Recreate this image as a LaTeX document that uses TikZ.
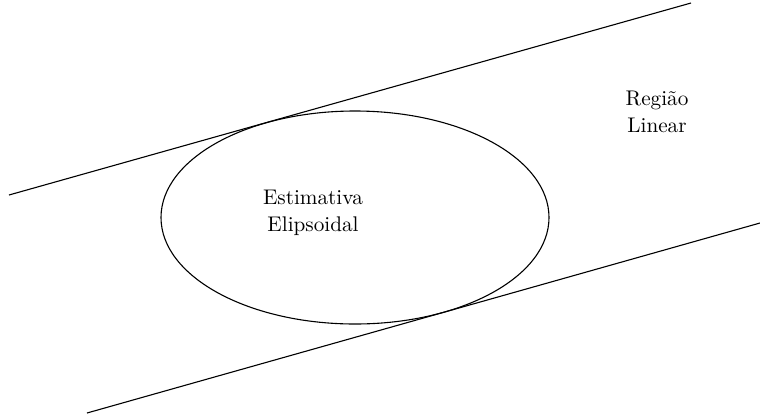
\documentclass[tikz,border=0pt]{standalone}
\usepackage{tikz}
\usetikzlibrary{shapes,positioning}

\begin{document}
\begin{tikzpicture}[
    x=0.5pt, y=-0.5pt,
    region/.style={draw, line width=0.55pt},
    estim/.style={ellipse, draw, line width=0.55pt, minimum width=194pt, minimum height=106.5pt, inner sep=0pt},
    txt/.style={align=center, font=\fontsize{10.6}{13.2}\selectfont}
]
\useasboundingbox (0,0) rectangle (760,419);

% limites da regiao linear
\coordinate (supA) at (9,195);
\coordinate (supB) at (691,3);
\coordinate (infA) at (87,413);
\coordinate (infB) at (760,223);
\draw[region] (supA) -- (supB);
\draw[region] (infA) -- (infB);

% elipsoide
\node[estim] (elip) at (355,217.5) {};
\node[txt] (estlabel) at (313,213) {Estimativa\\Elipsoidal};
\node[txt] (reglabel) at (657,112) {Região\\Linear};

\end{tikzpicture}
\end{document}
